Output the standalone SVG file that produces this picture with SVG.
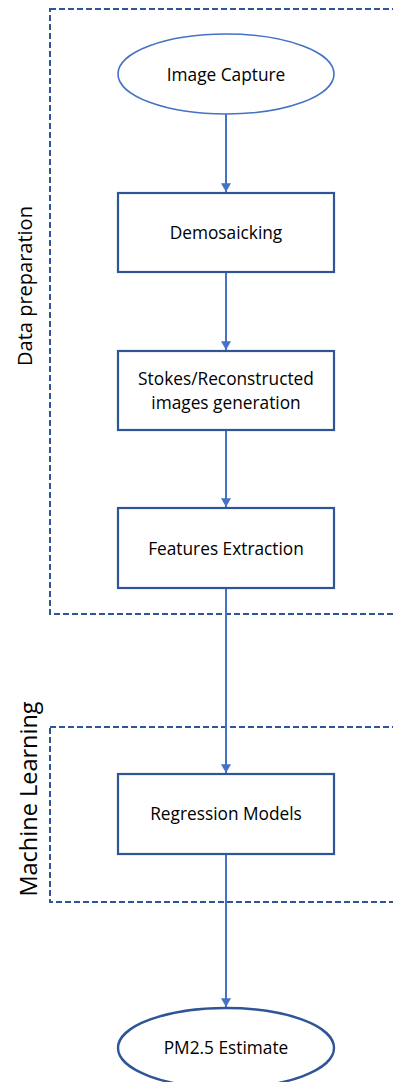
<svg xmlns="http://www.w3.org/2000/svg" width="393" height="1082" viewBox="0 0 393 1082">
<defs>
<style>
.grp{fill:none;stroke:#2F5597;stroke-width:2;stroke-dasharray:6,3}
.box{fill:#fff;stroke:#2F5597;stroke-width:2.2}
.ell1{fill:#fff;stroke:#4472C4;stroke-width:1.6}
.ell2{fill:#fff;stroke:#2F5597;stroke-width:2.4}
.lbl{font-family:"Open Sans","Noto Sans",sans-serif;font-size:17.3px;fill:#000;text-anchor:middle}
.side{font-family:"Open Sans","Noto Sans",sans-serif;fill:#000;text-anchor:middle}
.conn{stroke:#4472C4;stroke-width:2;fill:none;marker-end:url(#arr)}
</style>
<marker id="arr" markerWidth="5" markerHeight="5" refX="4.4" refY="2.5" orient="auto" markerUnits="strokeWidth">
<path d="M0,0 L4.4,2.5 L0,5 Z" fill="#4472C4"/>
</marker>
</defs>
<rect width="393" height="1082" fill="#fff"/>
<g id="group-data-preparation">
<rect class="grp" x="50" y="9" width="400" height="605"/>
<text class="side" font-size="20" transform="translate(32,286) rotate(-90)">Data preparation</text>
</g>
<g id="group-machine-learning">
<rect class="grp" x="50" y="727" width="400" height="175"/>
<text class="side" font-size="23.5" transform="translate(37,799) rotate(-90)">Machine Learning</text>
</g>
<g id="connectors">
<line class="conn" x1="226" y1="114" x2="226" y2="192"/>
<line class="conn" x1="226" y1="273" x2="226" y2="350"/>
<line class="conn" x1="226" y1="431" x2="226" y2="507"/>
<line class="conn" x1="226" y1="589" x2="226" y2="773"/>
<line class="conn" x1="226" y1="855" x2="226" y2="1007"/>
</g>
<g id="node-image-capture">
<ellipse class="ell1" cx="226" cy="74" rx="108" ry="40"/>
<text class="lbl" x="226" y="81">Image Capture</text>
</g>
<g id="node-demosaicking">
<rect class="box" x="118" y="193" width="216" height="79"/>
<text class="lbl" x="226" y="239">Demosaicking</text>
</g>
<g id="node-stokes">
<rect class="box" x="118" y="351" width="216" height="79"/>
<text class="lbl" x="226" y="384.5">Stokes/Reconstructed</text>
<text class="lbl" x="226" y="408.5">images generation</text>
</g>
<g id="node-features">
<rect class="box" x="118" y="508" width="216" height="80"/>
<text class="lbl" x="226" y="555">Features Extraction</text>
</g>
<g id="node-regression">
<rect class="box" x="118" y="774" width="216" height="80"/>
<text class="lbl" x="226" y="820">Regression Models</text>
</g>
<g id="node-pm25">
<ellipse class="ell2" cx="226" cy="1048" rx="108" ry="40"/>
<text class="lbl" x="226" y="1054">PM2.5 Estimate</text>
</g>
</svg>
